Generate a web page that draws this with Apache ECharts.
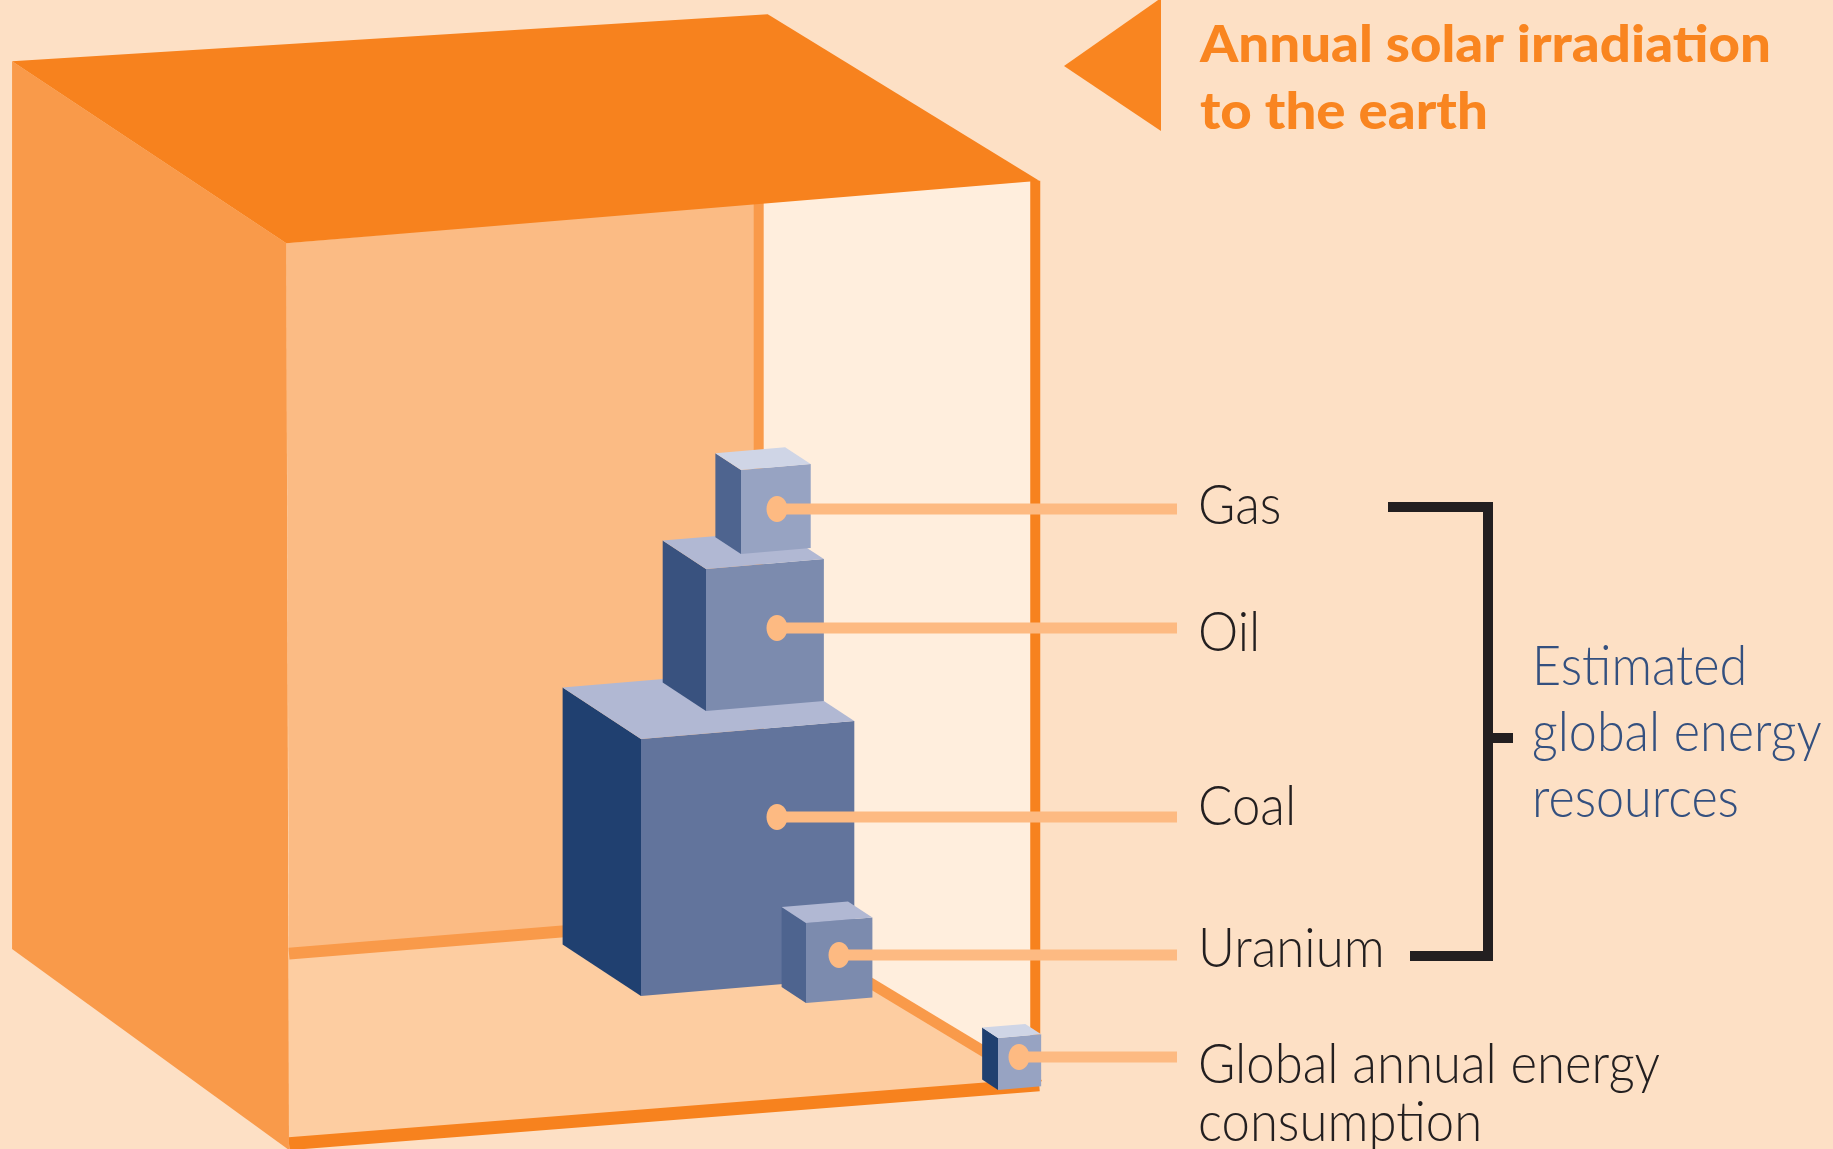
<!DOCTYPE html>
<html>
<head>
<meta charset="utf-8">
<style>
  html, body { margin: 0; padding: 0; background: #fde0c5; }
  #myechart { width: 1833px; height: 1149px; }
</style>
<script src="https://cdn.jsdelivr.net/npm/echarts@6/dist/echarts.min.js"></script>
</head>
<body>
<div id="myechart"></div>
<script>
// values: edge lengths of each cube, in drawing units
const categories = ["Coal", "Oil", "Gas", "Uranium", "Global annual energy\nconsumption"];
const cubeEdges = [257, 142, 84, 80, 52];
const solarEdge = 905;
const solarTitle = "Annual solar irradiation\nto the earth";
const bracketTitle = "Estimated\nglobal energy\nresources";

// layout of the drawing, in axis units
const cubeAnchors = [[641, 996], [706, 711], [741, 554], [806, 1003], [998, 1090]];
const dotPositions = [[777, 817], [777, 628], [777, 509], [839, 955], [1019, 1057]];
const labelPositions = [[1198, 807], [1198, 633], [1198, 506], [1198, 949], [1198, 1094]];
const cubeFaces = [
    { front: "#62749c", side: "#204070", top: "#b1b8d3" },
    { front: "#7c8bae", side: "#39527f", top: "#b1b8d3" },
    { front: "#97a3c2", side: "#4e648f", top: "#cfd5e6" },
    { front: "#7c8bae", side: "#4e648f", top: "#b1b8d3" },
    { front: "#97a3c2", side: "#204070", top: "#cfd5e6" }
];
const boxAnchor = [289, 1150];
// corner offsets of the open box as a share of its edge
const boxShape = {
    a: [-0.306, -1.203], b: [0.529, -1.255], c: [0.829, -1.071], d: [-0.003, -1.002],
    e: [-0.306, -0.222], f: [0, 0],
    wallTop: [0.519, -1.048], wallBottom: [0.519, -0.259], wallLeft: [0, -0.217],
    floorRight: [0.829, -0.072], floorFront: [0, -0.007]
};

const orange = "#f7821e";
const orangeLight = "#f99a4a";
const leaderColor = "#fdba82";
const inkColor = "#231f20";
const labelFont = "300 55px Lato, 'Open Sans', sans-serif";

function poly(api, pts, fill) {
    return {
        type: "polygon",
        shape: { points: pts.map(p => api.coord(p)) },
        style: { fill: fill }
    };
}

function line(api, pts, color, width) {
    return {
        type: "polyline",
        shape: { points: pts.map(p => api.coord(p)) },
        style: { stroke: color, lineWidth: width, fill: null, lineJoin: "miter" }
    };
}

function renderBox(params, api) {
    let edge = api.value(1);
    let pt = {};
    Object.keys(boxShape).forEach(k => {
        pt[k] = [boxAnchor[0] + boxShape[k][0] * edge, boxAnchor[1] + boxShape[k][1] * edge];
    });
    return {
        type: "group",
        children: [
            poly(api, [pt.wallTop, pt.c, pt.floorRight, pt.wallBottom], "#ffeedd"),
            poly(api, [pt.d, pt.wallTop, pt.wallBottom, pt.wallLeft], "#fbbb84"),
            poly(api, [pt.wallLeft, pt.wallBottom, pt.floorRight, pt.floorFront], "#fdcda1"),
            line(api, [pt.wallTop, pt.wallBottom], orangeLight, 10),
            line(api, [pt.wallLeft, pt.wallBottom], orangeLight, 12),
            line(api, [pt.wallBottom, pt.floorRight], orangeLight, 11),
            line(api, [[pt.c[0] - 4, pt.c[1]], [pt.floorRight[0] - 4, pt.floorRight[1]]], orange, 10),
            line(api, [pt.floorFront, pt.floorRight], orange, 13),
            poly(api, [pt.a, pt.d, pt.f, pt.e], orangeLight),
            poly(api, [pt.a, pt.b, pt.c, pt.d], orange)
        ]
    };
}

function renderCube(params, api) {
    let i = params.dataIndex;
    let e = api.value(1);
    let a = cubeAnchors[i];
    let colors = cubeFaces[i];
    let w = [0.83 * e, -0.07 * e];
    let back = [-0.305 * e, -0.2 * e];
    let fl = a;
    let fr = [a[0] + w[0], a[1] + w[1]];
    let tl = [a[0], a[1] - e];
    let tr = [fr[0], fr[1] - e];
    let bl = [a[0] + back[0], a[1] + back[1]];
    let tbl = [tl[0] + back[0], tl[1] + back[1]];
    let tbr = [tr[0] + back[0], tr[1] + back[1]];
    let dot = dotPositions[i];
    let label = labelPositions[i];
    let dotPx = api.coord(dot);
    let labelPx = api.coord(label);
    return {
        type: "group",
        children: [
            poly(api, [bl, fl, tl, tbl], colors.side),
            poly(api, [fl, fr, tr, tl], colors.front),
            poly(api, [tbl, tl, tr, tbr], colors.top),
            line(api, [dot, [1177, dot[1]]], leaderColor, 11),
            {
                type: "ellipse",
                shape: { cx: dotPx[0], cy: dotPx[1], rx: 10.5, ry: 13 },
                style: { fill: leaderColor }
            },
            {
                type: "text",
                x: labelPx[0],
                y: labelPx[1],
                scaleX: 0.925,
                style: {
                    text: categories[i],
                    font: labelFont,
                    fill: inkColor,
                    lineHeight: 58,
                    verticalAlign: "middle"
                }
            }
        ]
    };
}

function renderNotes(params, api) {
    let titlePx = api.coord([1200, 79]);
    let notePx = api.coord([1532, 733]);
    return {
        type: "group",
        children: [
            poly(api, [[1064, 66], [1161, -2], [1161, 131]], "#f98520"),
            line(api, [[1388, 507], [1488, 507], [1488, 956], [1410, 956]], inkColor, 10),
            line(api, [[1488, 738], [1513, 738]], inkColor, 10),
            {
                type: "text",
                x: titlePx[0],
                y: titlePx[1],
                scaleX: 1.07,
                style: {
                    text: solarTitle,
                    font: "900 51px Lato, 'Open Sans', sans-serif",
                    fill: "#f98520",
                    lineHeight: 67,
                    verticalAlign: "middle"
                }
            },
            {
                type: "text",
                x: notePx[0],
                y: notePx[1],
                scaleX: 0.915,
                style: {
                    text: bracketTitle,
                    font: labelFont,
                    fill: "#34507f",
                    lineHeight: 66,
                    verticalAlign: "middle"
                }
            }
        ]
    };
}

let option = {
    backgroundColor: "#fde0c5",
    animation: false,
    tooltip: { show: false },
    grid: { left: 0, right: 0, top: 0, bottom: 0 },
    xAxis: { type: "value", min: 0, max: 1833, show: false },
    yAxis: { type: "value", min: 0, max: 1149, inverse: true, show: false },
    series: [
        { name: "Annual solar irradiation", type: "custom", silent: true, clip: true, renderItem: renderBox, data: [[0, solarEdge]] },
        { name: "Energy", type: "custom", silent: true, renderItem: renderCube, data: categories.map((c, i) => [i, cubeEdges[i]]) },
        { name: "Notes", type: "custom", silent: true, renderItem: renderNotes, data: [[0, 0]] }
    ]
};

let myChart = echarts.init(document.getElementById("myechart"));
myChart.setOption(option);
</script>
</body>
</html>
